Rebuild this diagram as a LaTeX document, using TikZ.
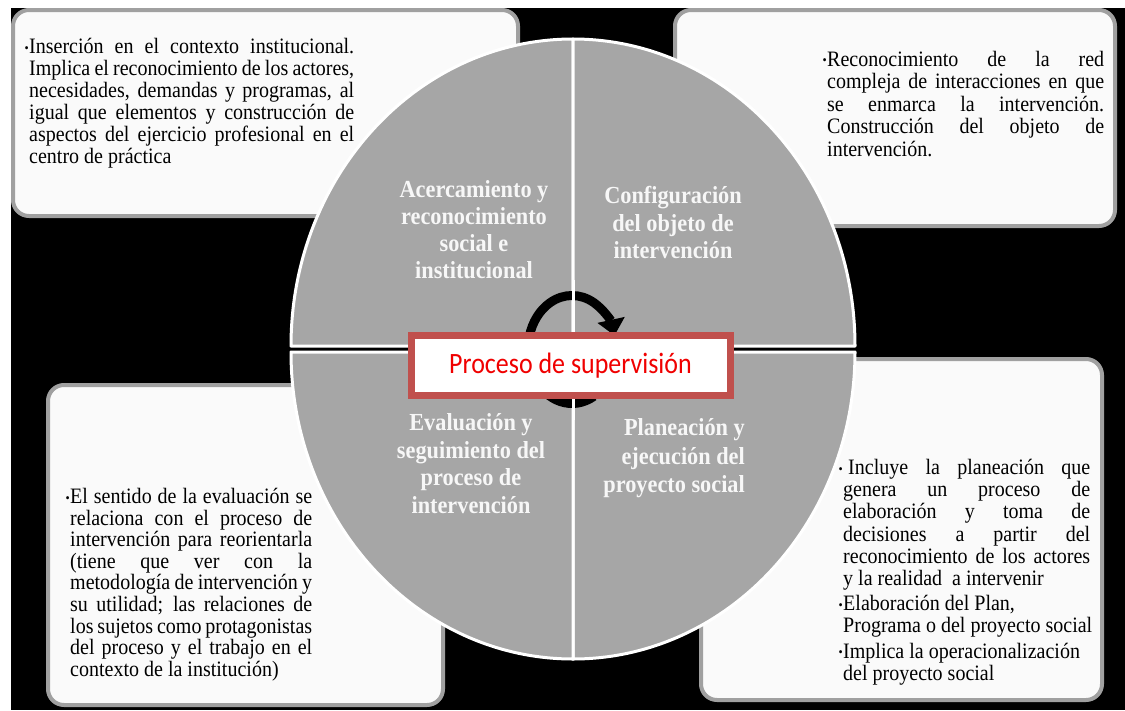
\documentclass[tikz,border=0pt]{standalone}
\usepackage{fontspec}
\setmainfont{Liberation Serif}
\newfontfamily\bodyfont{Liberation Serif}[FakeStretch=0.91]
\newfontfamily\titlefont{Carlito}[FakeStretch=0.88]
\usetikzlibrary{arrows.meta}
\definecolor{quadgray}{HTML}{A6A6A6}
\definecolor{boxline}{HTML}{A0A0A0}
\definecolor{boxfill}{HTML}{FAFAFA}
\definecolor{rectline}{HTML}{C0504D}
\definecolor{titlered}{HTML}{F00000}
\definecolor{labelwhite}{HTML}{F7F7F7}
\newcommand\bul{\llap{\fontsize{13}{13}\selectfont\raisebox{1.5pt}{•}\hspace{0.5pt}}}
\newcommand\jl[2]{\makebox[#1][s]{#2}}
\tikzset{
  infobox/.style={draw=boxline, fill=boxfill, line width=4pt, rounded corners=16pt},
  quadpiece/.style={fill=quadgray, draw=white, line width=3pt, line join=round},
  cyclearrow/.style={draw=black, line width=9pt, -{Triangle[length=16pt,width=27pt]}},
  titlebox/.style={draw=rectline, fill=white, line width=7pt, minimum width=319pt,
    minimum height=59.5pt, inner sep=0pt, text=titlered,
    font=\titlefont\fontsize{29.5}{30}\selectfont},
  bodytext/.style={align=left, inner sep=0pt, text=black, anchor=north west},
  labeltext/.style={align=center, inner sep=0pt, text=labelwhite},
}
\begin{document}
\begin{tikzpicture}[x=1pt,y=-1pt]
\useasboundingbox (0,0) rectangle (1125,710);
\fill[black] (0,0) rectangle (1125,710);
\fill[white] (0,0) rectangle (11,710);
\fill[white] (0,0) rectangle (1125,8);

% boxes
\draw[infobox] (13,10) rectangle (518,216);
\draw[infobox] (675,10) rectangle (1115,226);
\draw[infobox] (48,385) rectangle (443,705);
\draw[infobox] (701,359) rectangle (1102,700);

% quadrants
\path[quadpiece] (573,346) -- (291,346) arc[start angle=180,end angle=270,x radius=282,y radius=307] -- cycle;
\path[quadpiece] (573,346) -- (573,39) arc[start angle=270,end angle=360,x radius=282,y radius=307] -- cycle;
\path[quadpiece] (573,352) -- (855,352) arc[start angle=0,end angle=90,x radius=282,y radius=307] -- cycle;
\path[quadpiece] (573,352) -- (573,659) arc[start angle=90,end angle=180,x radius=282,y radius=307] -- cycle;

% cycle arrow
\coordinate (cyc) at (572,349.5);
\draw[cyclearrow] (cyc) ++(60:44 and 54) arc[start angle=60,end angle=345,x radius=44,y radius=54];
\coordinate (sepTop) at (573,280);
\coordinate (sepBot) at (573,420);
\draw[white, line width=3pt] (sepTop) -- (sepBot);

% title
\node[titlebox] (title) at (570.5,365.3) {Proceso de supervisión};

% quadrant labels
\node[labeltext, font=\bodyfont\bfseries\fontsize{24.5}{27}\selectfont] (lab1) at (474,230)
  {Acercamiento y\\reconocimiento\\social e\\institucional};
\node[labeltext, font=\bodyfont\bfseries\fontsize{24.5}{27.5}\selectfont] (lab2) at (673,222.5)
  {Configuración\\del objeto de\\intervención};
\node[labeltext, font=\bodyfont\bfseries\fontsize{24.5}{27.7}\selectfont] (lab3) at (471,463.5)
  {Evaluación y\\seguimiento del\\proceso de\\intervención};
\node[labeltext, align=right, anchor=east, font=\bodyfont\bfseries\fontsize{24.5}{28.5}\selectfont] (lab4) at (745,458.5)
  {Planeación y\\ejecución del\hspace*{9pt}\\proyecto social};

% body texts
\node[bodytext, font=\bodyfont\fontsize{22}{22}\selectfont] (txt1) at (29,38) {%
\bul\jl{325pt}{Inserción en el contexto institucional.}\\
\jl{325pt}{Implica el reconocimiento de los actores,}\\
\jl{325pt}{necesidades, demandas y programas, al}\\
\jl{325pt}{igual que elementos y construcción de}\\
\jl{325pt}{aspectos del ejercicio profesional en el}\\
centro de práctica};

\node[bodytext, font=\bodyfont\fontsize{22}{22.5}\selectfont] (txt2) at (827,51) {%
\bul\jl{277pt}{Reconocimiento de la red}\\
\jl{277pt}{compleja de interacciones en que}\\
\jl{277pt}{se enmarca la intervención.}\\
\jl{277pt}{Construcción del objeto de}\\
intervención.};

\node[bodytext, font=\bodyfont\fontsize{22}{21.6}\selectfont] (txt3) at (70,488) {%
\bul\jl{242pt}{El sentido de la evaluación se}\\
\jl{242pt}{relaciona con el proceso de}\\
\jl{242pt}{intervención para reorientarla}\\
\jl{242pt}{(tiene que ver con la}\\
\jl{242pt}{metodología de intervención y}\\
\jl{242pt}{su utilidad; las relaciones de}\\
\jl{242pt}{los sujetos como protagonistas}\\
\jl{242pt}{del proceso y el trabajo en el}\\
contexto de la institución)};

\node[bodytext, font=\bodyfont\fontsize{22}{22.2}\selectfont] (txt4) at (843,459) {%
\bul\jl{247pt}{\hspace*{5pt}Incluye la planeación que}\\
\jl{247pt}{genera un proceso de}\\
\jl{247pt}{elaboración y toma de}\\
\jl{247pt}{decisiones a partir del}\\
\jl{247pt}{reconocimiento de los actores}\\
y la realidad \ a intervenir\\[3pt]
\bul Elaboración del Plan,\\
Programa o del proyecto social\\[3pt]
\bul Implica la operacionalización\\
del proyecto social};
\end{tikzpicture}
\end{document}
